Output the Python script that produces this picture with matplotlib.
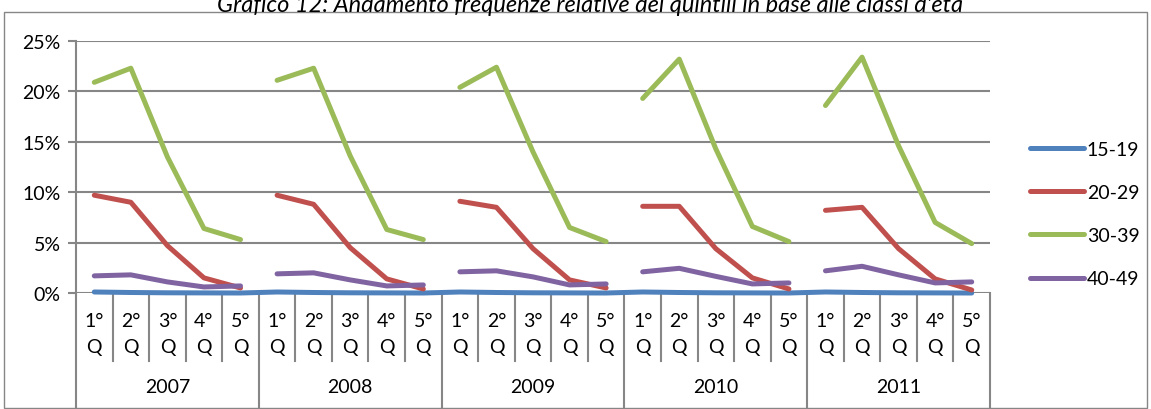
import matplotlib.pyplot as plt
from matplotlib.patches import Rectangle
from matplotlib.lines import Line2D
import matplotlib.transforms as mtransforms

plt.rcParams['font.family'] = ['Lato', 'DejaVu Sans']
plt.rcParams['font.size'] = 14

years = ['2007', '2008', '2009', '2010', '2011']
quintili = ['1°\nQ', '2°\nQ', '3°\nQ', '4°\nQ', '5°\nQ']

# frequenze relative (%) per quintile, anno dopo anno
eta_15_19 = [0.10, 0.05, 0.02, 0.01, 0.00,
             0.10, 0.05, 0.02, 0.01, 0.00,
             0.10, 0.05, 0.02, 0.01, 0.00,
             0.10, 0.05, 0.02, 0.01, 0.00,
             0.10, 0.05, 0.02, 0.01, 0.00]
eta_20_29 = [9.7, 9.0, 4.7, 1.5, 0.5,
             9.7, 8.8, 4.5, 1.4, 0.4,
             9.1, 8.5, 4.4, 1.3, 0.5,
             8.6, 8.6, 4.4, 1.5, 0.4,
             8.2, 8.5, 4.4, 1.4, 0.3]
eta_30_39 = [20.9, 22.3, 13.5, 6.4, 5.3,
             21.1, 22.3, 13.6, 6.3, 5.3,
             20.4, 22.4, 14.0, 6.5, 5.1,
             19.3, 23.2, 14.3, 6.6, 5.1,
             18.6, 23.4, 14.6, 7.0, 4.9]
eta_40_49 = [1.7, 1.8, 1.1, 0.6, 0.7,
             1.9, 2.0, 1.3, 0.7, 0.8,
             2.1, 2.2, 1.6, 0.8, 0.9,
             2.1, 2.45, 1.65, 0.9, 1.0,
             2.2, 2.65, 1.8, 1.0, 1.1]

series = [('15-19', eta_15_19, '#4F81BD', True),
          ('20-29', eta_20_29, '#C0504D', False),
          ('30-39', eta_30_39, '#9BBB59', False),
          ('40-49', eta_40_49, '#8064A2', False)]

W, H = 1151, 410
fig = plt.figure(figsize=(W / 100, H / 100), dpi=100)
grey = '#868686'

# outer border of the chart
fig.patches.append(Rectangle((4 / W, 1 / H), 1143 / W, 396 / H, transform=fig.transFigure,
                             fill=False, edgecolor=grey, linewidth=1.0))

fig.text(0.513, 1 - 5 / H, "Grafico 12: Andamento frequenze relative dei quintili in base alle classi d'età",
         ha='center', va='center', style='italic', fontsize=17)

ax = fig.add_axes([76 / W, (H - 294) / H, 914 / W, 252 / H])

n = len(years) * len(quintili)
x = list(range(n))
lw = 3.6
for name, vals, col, continuous in series:
    if continuous:
        ax.plot(x, vals, color=col, lw=lw, solid_capstyle='round', zorder=3, clip_on=False)
    else:
        for i in range(len(years)):
            s = slice(i * 5, i * 5 + 5)
            ax.plot(x[s], vals[s], color=col, lw=lw, solid_capstyle='round',
                    solid_joinstyle='round', zorder=3, clip_on=False)

ax.set_xlim(-0.5, n - 0.5)
ax.set_ylim(0, 25)
ax.set_yticks([0, 5, 10, 15, 20, 25])
ax.set_yticklabels(['0%', '5%', '10%', '15%', '20%', '25%'])
ax.yaxis.grid(True, color=grey, linewidth=1.5)
ax.set_xticks([])
for sp in ['top', 'right', 'bottom']:
    ax.spines[sp].set_visible(False)
ax.spines['left'].set_color(grey)
ax.spines['left'].set_linewidth(1.5)
ax.tick_params(axis='y', length=6, width=1.5, color=grey, pad=5, labelsize=14)

# category axis drawn by hand below the plot
tr = mtransforms.blended_transform_factory(ax.transData, ax.transAxes)
ph = 252.0
for k in range(n + 1):
    xe = k - 0.5
    bottom = -(408 - 294) / ph if k % 5 == 0 else -(362 - 294) / ph
    ax.add_line(Line2D([xe, xe], [0, bottom], transform=tr, color=grey, lw=1.5, clip_on=False))
for k in range(n):
    lab = quintili[k % 5].split('\n')
    ax.text(k, -(322 - 294) / ph, lab[0], transform=tr, ha='center', va='center', fontsize=14)
    ax.text(k, -(348 - 294) / ph, lab[1], transform=tr, ha='center', va='center', fontsize=14)
for i, yr in enumerate(years):
    ax.text(i * 5 + 2, -(388 - 294) / ph, yr, transform=tr, ha='center', va='center', fontsize=14)

handles = [Line2D([], [], color=c, lw=lw, solid_capstyle='round') for _, _, c, _ in series]
fig.legend(handles, [s[0] for s in series], loc='center left',
           bbox_to_anchor=(1030 / W, (H - 215) / H), frameon=False, borderaxespad=0, borderpad=0,
           handlelength=2.8, handletextpad=0.12, labelspacing=1.35, fontsize=14)

fig.savefig('out.png', dpi=100)
